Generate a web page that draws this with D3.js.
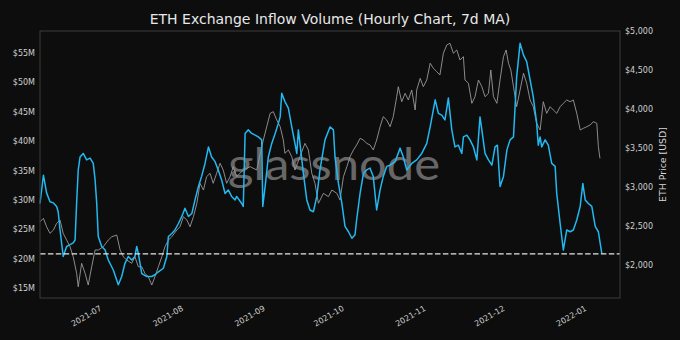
<!DOCTYPE html>
<html>
<head>
<meta charset="utf-8">
<script src="https://cdn.jsdelivr.net/npm/d3@7"></script>
<style>
  body { margin: 0; background: #0d0d0d; }
  text { font-family: "DejaVu Sans", sans-serif; }
</style>
</head>
<body>
<div id="chart"></div>
<script>
// Time is stored as days after startDate (hourly chart)
var startDate = new Date(2021, 5, 8);
var endDate = new Date(2022, 0, 14);

// ETH exchange inflow volume, 7d MA, in $M
var inflowDays = [0, 1.3, 2.5, 3.8, 5.1, 6.3, 6.9, 7.6, 8.8, 10.1,
    11.4, 12.6, 13.3, 13.9, 14.5, 15.2, 16.4, 17.7, 19.0, 20.2,
    20.9, 21.5, 22.1, 23.4, 24.7, 25.9, 27.8, 29.7, 31.0, 32.2,
    33.5, 34.8, 36.0, 36.7, 37.3, 38.6, 40.5, 42.4, 43.6, 44.9,
    46.8, 48.1, 48.7, 50.0, 51.2, 52.5, 53.8, 55.0, 56.3, 57.6,
    58.8, 60.1, 61.3, 62.6, 63.9, 65.1, 66.4, 67.6, 68.9, 70.2,
    71.4, 72.7, 74.0, 74.6, 76.5, 77.1, 77.8, 79.0, 80.3, 81.6,
    82.8, 84.1, 84.5, 85.4, 86.6, 87.9, 89.2, 90.4, 91.1, 91.7,
    92.9, 94.2, 95.5, 96.7, 97.4, 98.0, 98.6, 99.9, 101.2, 102.4,
    103.7, 105.0, 106.2, 108.1, 110.0, 111.3, 111.9, 113.2, 114.5, 115.7,
    117.0, 118.3, 119.5, 120.1, 121.4, 122.7, 123.9, 125.2, 126.4, 127.7,
    129.0, 130.2, 131.5, 132.8, 134.7, 136.6, 137.8, 139.1, 141.0, 142.9,
    144.8, 146.7, 148.0, 149.9, 151.1, 152.4, 153.6, 154.9, 156.2, 157.4,
    158.7, 160.0, 160.6, 161.9, 163.1, 164.4, 165.7, 166.9, 167.6, 168.8,
    170.1, 171.4, 172.6, 173.5, 174.5, 175.8, 177.1, 178.3, 179.6, 180.8,
    182.1, 183.4, 184.6, 185.9, 187.1, 188.4, 189.0, 189.7, 190.3, 191.6,
    192.8, 194.1, 195.4, 196.0, 197.3, 198.5, 199.8, 201.1, 202.3, 203.6,
    204.9, 205.9, 206.8, 208.0, 209.3, 210.6, 211.8, 213.1];
var inflowValues = [29.4, 34.2, 31.2, 29.7, 29.5, 28.9, 28.0, 24.9, 20.4, 22.1,
    22.4, 22.7, 23.2, 29.5, 35.1, 37.3, 37.9, 36.8, 37.1, 36.2,
    33.4, 29.5, 23.8, 22.1, 21.5, 19.8, 18.1, 15.6, 17.0, 19.2,
    20.4, 19.8, 20.4, 22.1, 20.9, 17.5, 17.0, 17.0, 17.3, 17.8,
    18.4, 20.4, 23.8, 24.3, 24.9, 26.0, 27.2, 28.6, 27.2, 27.7,
    30.0, 32.3, 34.0, 36.2, 39.0, 37.3, 36.5, 35.1, 33.4, 31.1,
    31.7, 30.6, 30.0, 30.6, 29.4, 28.9, 41.3, 41.9, 41.3, 41.0,
    40.7, 40.2, 28.9, 32.3, 37.3, 39.6, 41.3, 43.0, 44.1, 48.1,
    46.7, 45.6, 42.4, 39.6, 37.9, 41.9, 39.6, 34.5, 30.0, 28.3,
    28.0, 30.6, 35.1, 40.2, 42.4, 41.9, 37.3, 32.8, 29.4, 25.5,
    24.6, 23.5, 24.1, 26.6, 31.1, 34.5, 35.1, 35.4, 34.0, 28.3,
    31.7, 34.0, 35.7, 35.9, 36.5, 38.8, 37.3, 35.1, 36.2, 36.8,
    37.9, 39.6, 42.4, 47.0, 44.7, 44.4, 43.6, 47.3, 41.9, 39.0,
    39.3, 37.9, 40.7, 41.0, 40.2, 39.0, 36.8, 44.1, 41.9, 37.9,
    36.8, 35.9, 39.0, 39.3, 32.3, 34.0, 38.5, 40.2, 40.7, 50.9,
    56.6, 54.6, 53.5, 50.4, 47.5, 43.0, 39.3, 40.7, 39.0, 40.2,
    39.3, 36.2, 35.7, 31.1, 26.0, 21.5, 24.9, 24.6, 24.9, 26.6,
    28.9, 32.8, 30.0, 29.4, 28.9, 25.5, 24.6, 20.9];

// ETH price in USD
var priceDays = [0, 1.3, 2.5, 3.8, 5.1, 6.3, 7.6, 8.8, 10.1, 11.4,
    12.6, 13.9, 14.5, 15.8, 17.1, 18.3, 19.6, 20.9, 22.1, 24.0,
    25.9, 27.2, 29.1, 30.4, 31.6, 32.9, 34.8, 36.0, 37.3, 38.6,
    39.8, 41.1, 42.4, 43.6, 44.9, 46.2, 47.4, 48.7, 50.0, 51.9,
    53.1, 54.4, 55.7, 56.9, 58.2, 59.5, 60.7, 62.0, 63.2, 64.5,
    65.7, 67.0, 68.3, 69.5, 70.8, 72.1, 73.3, 74.6, 77.1, 79.7,
    82.2, 84.7, 86.0, 87.3, 88.5, 89.8, 91.1, 92.3, 92.9, 94.2,
    95.5, 96.7, 98.6, 100.5, 101.8, 103.1, 104.3, 105.6, 107.5, 109.4,
    110.7, 112.6, 113.8, 115.1, 116.4, 117.6, 118.9, 120.1, 121.4, 122.7,
    123.9, 125.2, 126.4, 127.7, 129.0, 130.2, 131.5, 132.8, 134.0, 135.3,
    135.9, 137.2, 138.5, 139.7, 141.0, 142.3, 142.9, 144.2, 145.4, 146.7,
    148.0, 149.2, 150.5, 151.7, 153.0, 154.3, 155.5, 156.8, 158.1, 159.3,
    160.6, 161.2, 162.5, 163.8, 165.0, 166.3, 167.6, 168.8, 170.1, 171.0,
    172.0, 173.3, 174.5, 175.8, 176.8, 177.7, 178.6, 179.6, 180.8, 182.1,
    183.4, 184.6, 185.9, 187.1, 188.4, 189.7, 190.9, 192.2, 193.5, 194.7,
    196.0, 197.3, 198.5, 199.8, 201.1, 202.3, 203.6, 204.9, 206.1, 207.4,
    208.7, 209.9, 211.2, 211.8, 212.4];
var priceValues = [2554, 2598, 2490, 2406, 2448, 2534, 2576, 2406, 2320, 2234,
    2106, 1894, 1722, 2022, 1894, 1744, 1978, 2192, 2192, 2234,
    2320, 2362, 2384, 2192, 2106, 2064, 2022, 2106, 1978, 1978,
    1894, 1850, 1744, 1850, 1978, 2106, 2234, 2320, 2362, 2448,
    2490, 2618, 2576, 2490, 2618, 2790, 3046, 2960, 3131, 3174,
    3046, 3174, 3302, 3216, 3046, 3131, 3259, 3131, 3216, 3259,
    3216, 3600, 3771, 3942, 3963, 3857, 3771, 3600, 3430, 3473,
    3387, 3216, 3387, 3558, 3473, 3174, 3046, 2790, 2918, 2875,
    2960, 2918, 2832, 3131, 3259, 3387, 3473, 3537, 3622, 3600,
    3558, 3537, 3473, 3600, 3771, 3899, 3857, 3771, 3899, 4155,
    4283, 4091, 4198, 4113, 4241, 3985, 4241, 4390, 4283, 4369,
    4583, 4519, 4475, 4433, 4711, 4817, 4839, 4711, 4753, 4625,
    4667, 4369, 4327, 4070, 4155, 4369, 4283, 4155, 4198, 4497,
    4155, 4070, 4369, 4667, 4753, 4583, 4497, 4283, 4027, 4241,
    4455, 4327, 4113, 4027, 3814, 3729, 4091, 3942, 4027, 3985,
    3942, 4027, 4070, 4113, 4091, 4113, 3942, 3729, 3750, 3771,
    3793, 3835, 3814, 3515, 3366];

var inflowTicks = [15, 20, 25, 30, 35, 40, 45, 50, 55];
var priceTicks = [2000, 2500, 3000, 3500, 4000, 4500, 5000];
var currentLevel = 20.85;   // dashed reference line ($M)

var margin = {top: 31, right: 60, bottom: 42, left: 40},
    width = 680 - margin.left - margin.right,
    height = 340 - margin.top - margin.bottom;

function dayToDate(d) {
    return d3.timeMinute.offset(startDate, Math.round(d * 1440));
}

var inflow = d3.zip(inflowDays, inflowValues).map(d => ({date: dayToDate(d[0]), value: d[1]}));
var price = d3.zip(priceDays, priceValues).map(d => ({date: dayToDate(d[0]), value: d[1]}));

var svg = d3.select("#chart")
    .append("svg")
        .attr("width", width + margin.left + margin.right)
        .attr("height", height + margin.top + margin.bottom)
        .style("background", "#0d0d0d");

var g = svg.append("g")
    .attr("transform", "translate(" + margin.left + "," + margin.top + ")");

// Scales
var x = d3.scaleTime().domain([startDate, endDate]).range([0, width]);
var y = d3.scaleLinear().domain([13.35, 58.69]).range([height, 0]);
var y2 = d3.scaleLinear().domain([1578, 4996]).range([height, 0]);

// Watermark
g.append("text")
    .attr("x", 188)
    .attr("y", 149)
    .attr("textLength", 212)
    .attr("lengthAdjust", "spacingAndGlyphs")
    .style("font-family", "Lato, sans-serif")
    .style("font-size", "44px")
    .style("fill", "#676767")
    .text("glassnode");

// Price line (grey)
g.append("path")
    .datum(price)
    .attr("fill", "none")
    .attr("stroke", "#989898")
    .attr("stroke-width", 0.9)
    .attr("d", d3.line().x(d => x(d.date)).y(d => y2(d.value)));

// Inflow line (blue)
g.append("path")
    .datum(inflow)
    .attr("fill", "none")
    .attr("stroke", "#22b8f0")
    .attr("stroke-width", 1.5)
    .attr("stroke-linejoin", "round")
    .attr("d", d3.line().x(d => x(d.date)).y(d => y(d.value)));

// Dashed level line
g.append("line")
    .attr("x1", 0).attr("x2", width)
    .attr("y1", y(currentLevel)).attr("y2", y(currentLevel))
    .attr("stroke", "#e6e6e6")
    .attr("stroke-width", 1.4)
    .attr("stroke-dasharray", "5.5,2.4");

// Frame
g.append("rect")
    .attr("width", width).attr("height", height)
    .attr("fill", "none")
    .attr("stroke", "#3c3c3c")
    .attr("stroke-width", 1);

// Axes
var xAxis = g.append("g")
    .attr("transform", "translate(0," + height + ")")
    .call(d3.axisBottom(x).ticks(d3.timeMonth.every(1)).tickFormat(d3.timeFormat("%Y-%m")).tickSize(0));
xAxis.selectAll("text")
    .attr("x", 0).attr("y", 0).attr("dy", 0)
    .attr("text-anchor", "end")
    .attr("transform", "translate(1,12) rotate(-30)");

var yAxis = g.append("g")
    .call(d3.axisLeft(y).tickValues(inflowTicks).tickFormat(d => "$" + d + "M").tickSize(0).tickPadding(5));

var y2Axis = g.append("g")
    .attr("transform", "translate(" + width + ",0)")
    .call(d3.axisRight(y2).tickValues(priceTicks).tickFormat(d3.format("$,")).tickSize(0).tickPadding(5));

[xAxis, yAxis, y2Axis].forEach(a => {
    a.select(".domain").remove();
    a.selectAll("text")
        .style("font-family", "DejaVu Sans, sans-serif")
        .style("font-size", "8px")
        .style("fill", "#cfcfcf");
});

// Title
svg.append("text")
    .attr("x", margin.left + width / 2)
    .attr("y", 24)
    .attr("text-anchor", "middle")
    .style("font-size", "14px")
    .style("fill", "#e8e8e8")
    .text("ETH Exchange Inflow Volume (Hourly Chart, 7d MA)");

// Right axis label
svg.append("text")
    .attr("transform", "translate(666," + (margin.top + height / 2) + ") rotate(-90)")
    .attr("text-anchor", "middle")
    .style("font-size", "9.4px")
    .style("fill", "#d8d8d8")
    .text("ETH Price [USD]");
</script>
</body>
</html>
